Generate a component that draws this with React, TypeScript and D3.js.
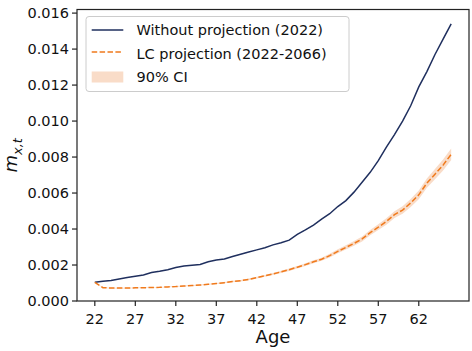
import React, { useEffect } from 'react'
import * as d3 from 'd3'

// ages 22..66
const ages = [22, 23, 24, 25, 26, 27, 28, 29, 30, 31, 32, 33, 34, 35, 36, 37, 38, 39, 40, 41, 42, 43, 44,
  45, 46, 47, 48, 49, 50, 51, 52, 53, 54, 55, 56, 57, 58, 59, 60, 61, 62, 63, 64, 65, 66]

// without projection (2022), in units of 0.001
const noProj = [1.04, 1.10, 1.14, 1.22, 1.30, 1.38, 1.45, 1.58, 1.65, 1.74, 1.86, 1.95, 1.99, 2.03, 2.18,
  2.28, 2.33, 2.47, 2.60, 2.72, 2.84, 2.96, 3.12, 3.24, 3.38, 3.70, 3.95, 4.22, 4.55, 4.85, 5.25, 5.58,
  6.05, 6.60, 7.15, 7.80, 8.55, 9.25, 10.00, 10.85, 11.90, 12.75, 13.70, 14.55, 15.40]

// LC projection (2022-2066)
const lcProj = [1.04, 0.74, 0.72, 0.72, 0.72, 0.73, 0.74, 0.75, 0.76, 0.78, 0.80, 0.83, 0.86, 0.89, 0.93,
  0.97, 1.02, 1.08, 1.13, 1.20, 1.30, 1.40, 1.50, 1.62, 1.74, 1.88, 2.02, 2.18, 2.32, 2.52, 2.76, 2.98,
  3.20, 3.45, 3.80, 4.10, 4.42, 4.80, 5.05, 5.45, 5.90, 6.55, 7.05, 7.55, 8.15]

// 90% CI bounds
const ciLow = [1.03, 0.72, 0.70, 0.70, 0.70, 0.71, 0.72, 0.73, 0.74, 0.76, 0.78, 0.80, 0.83, 0.86, 0.90,
  0.94, 0.98, 1.04, 1.09, 1.16, 1.25, 1.35, 1.44, 1.56, 1.67, 1.81, 1.94, 2.10, 2.23, 2.42, 2.65, 2.86,
  3.07, 3.31, 3.65, 3.94, 4.24, 4.61, 4.85, 5.23, 5.66, 6.29, 6.77, 7.25, 7.83]
const ciHigh = [1.05, 0.76, 0.74, 0.74, 0.74, 0.75, 0.76, 0.77, 0.78, 0.80, 0.83, 0.86, 0.89, 0.92, 0.96,
  1.00, 1.06, 1.12, 1.17, 1.25, 1.35, 1.45, 1.56, 1.68, 1.81, 1.95, 2.10, 2.27, 2.41, 2.62, 2.87, 3.10,
  3.33, 3.59, 3.95, 4.27, 4.60, 4.99, 5.26, 5.67, 6.14, 6.81, 7.34, 7.86, 8.48]

const xTicks = [22, 27, 32, 37, 42, 47, 52, 57, 62]
const yTicks = [0, 0.002, 0.004, 0.006, 0.008, 0.010, 0.012, 0.014, 0.016]

const legendLabels = ['Without projection (2022)', 'LC projection (2022-2066)', '90% CI']

const W = 472, H = 351
const left = 77, right = 469, top = 9.5, bottom = 301
const blue = '#1f2f5e'
const orange = '#f07a1c'
const ciFill = '#f9dcc8'
const font = 'DejaVu Sans, sans-serif'

export default function App() {
  useEffect(() => { document.body.style.margin = '0' }, [])

  const x = d3.scaleLinear().domain([19.8, 68.2]).range([left, right])
  const y = d3.scaleLinear().domain([0, 0.0162]).range([bottom, top])

  const line = d3.line<number>().x((_, i) => x(ages[i])).y(d => y(d / 1000))
  const area = d3.area<number>()
    .x((_, i) => x(ages[i]))
    .y0((_, i) => y(ciLow[i] / 1000))
    .y1((_, i) => y(ciHigh[i] / 1000))

  const lx = 86, ly = 16.5
  return (
    <svg width={W} height={H} style={{ position: 'absolute', left: 0, top: 0, background: '#fff' }} fontFamily={font}>
      <path d={area(ages.map(() => 0)) || ''} fill={ciFill} />
      <path d={line(noProj) || ''} fill="none" stroke={blue} strokeWidth={1.5} />
      <path d={line(lcProj) || ''} fill="none" stroke={orange} strokeWidth={1.5} strokeDasharray="5.5,2.4" />

      {/* spines */}
      <rect x={left} y={top} width={right - left} height={bottom - top} fill="none" stroke="#222" strokeWidth={1.2} />

      {xTicks.map(t => (
        <g key={t} transform={`translate(${x(t)},${bottom})`}>
          <line y2={5} stroke="#222" strokeWidth={1.2} />
          <text y={22.5} textAnchor="middle" fontSize={14.5} fill="#111">{t}</text>
        </g>
      ))}
      {yTicks.map(t => (
        <g key={t} transform={`translate(${left},${y(t)})`}>
          <line x2={-5} stroke="#222" strokeWidth={1.2} />
          <text x={-8} dy="0.36em" textAnchor="end" fontSize={14.5} fill="#111">{d3.format('.3f')(t)}</text>
        </g>
      ))}

      <text x={(left + right) / 2} y={343} textAnchor="middle" fontSize={18} fill="#111">Age</text>
      <text transform={`translate(17,${(top + bottom) / 2}) rotate(-90)`} textAnchor="middle" fontSize={18} fill="#111">
        <tspan fontStyle="italic">m</tspan>
        <tspan fontStyle="italic" fontSize={13} dy={5}>x,t</tspan>
      </text>

      {/* legend */}
      <rect x={lx} y={ly} width={263} height={75} rx={3} fill="#fff" fillOpacity={0.8} stroke="#ccc" strokeWidth={1} />
      <line x1={91.7} x2={123.3} y1={30} y2={30} stroke={blue} strokeWidth={1.5} />
      <line x1={91.7} x2={123.3} y1={52} y2={52} stroke={orange} strokeWidth={1.5} strokeDasharray="5.5,2.4" />
      <rect x={91.7} y={71.5} width={31.6} height={11} fill={ciFill} />
      {legendLabels.map((s, i) => (
        <text key={s} x={136.5} y={30 + i * 23.5} dy="0.36em" fontSize={14.5} fill="#111">{s}</text>
      ))}
    </svg>
  )
}
